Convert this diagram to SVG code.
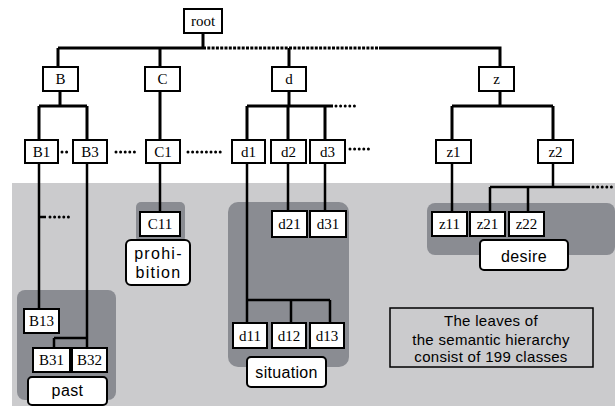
<svg xmlns="http://www.w3.org/2000/svg" width="615" height="406" viewBox="0 0 615 406">
  <style>
    .node rect { fill: #ffffff; stroke: #000000; stroke-width: 2; }
    .node text { font-family: "Liberation Serif", "Times New Roman", serif; font-size: 15px; text-anchor: middle; fill: #000000; }
    .tag rect { fill: #ffffff; stroke: #000000; stroke-width: 2; }
    .tag text { font-family: "Liberation Sans", Arial, sans-serif; font-size: 16px; text-anchor: middle; fill: #000000; }
    .panel { fill: #8a8c92; }
    .edge { fill: none; stroke: #000000; stroke-width: 3; }
    .edge2 { fill: none; stroke: #000000; stroke-width: 2.5; }
    .dense { fill: none; stroke: #000000; stroke-width: 3; stroke-dasharray: 3 1.3; }
    .dots { fill: none; stroke: #000000; stroke-width: 3; stroke-linecap: round; stroke-dasharray: 0 4.6; }
    .note { font-family: "Liberation Sans", Arial, sans-serif; font-size: 15px; text-anchor: middle; fill: #000000; letter-spacing: 0.3px; }
  </style>

  <!-- leaf area background -->
  <rect x="12" y="183" width="603" height="223" fill="#cbcbcd"/>

  <!-- class panels -->
  <rect class="panel" x="17" y="290" width="99" height="110" rx="8"/>
  <rect class="panel" x="136" y="202" width="49" height="40" rx="5"/>
  <rect class="panel" x="228" y="202" width="121" height="165" rx="10"/>
  <rect class="panel" x="427" y="203" width="188" height="52" rx="8"/>

  <!-- connectors -->
  <g id="connectors">
    <!-- level 1 -->
    <path class="edge" d="M203 33 V48 M58 48 H203 M58 48 V67 M160 48 V67 M379 48 H500 V67 M289 48 V67"/>
    <path class="dense" d="M203 48 H379"/>
    <!-- B branch -->
    <path class="edge" d="M60 91 V106 M39 106 H87 M39 106 V140 M87 106 V140"/>
    <path class="edge2" d="M39 163 V309 M39 217 H46 M87 163 V348 M54 338 H87 M54 338 V348"/>
    <path class="dots" d="M50 217 H70"/>
    <!-- C branch -->
    <path class="edge" d="M160 91 V140"/>
    <path class="edge2" d="M160 163 V212"/>
    <!-- d branch -->
    <path class="edge" d="M289 91 V106 M247 106 H333 M247 106 V140 M288 106 V140 M325 106 V140"/>
    <path class="dots" d="M336 106 H356"/>
    <path class="edge2" d="M247 163 V323 M288 163 V211 M325 163 V211 M247 300 H330 M291 300 V323 M330 300 V323"/>
    <!-- z branch -->
    <path class="edge" d="M500 91 V106 M452 106 H553 M452 106 V140 M553 106 V140"/>
    <path class="edge2" d="M452 163 V212 M553 163 V187 M490 187 H590 M490 187 V212 M528 187 V212"/>
    <path class="dots" d="M593 187 H613"/>
    <!-- elided siblings -->
    <path class="dots" d="M62 152 H71"/>
    <path class="dots" d="M116 152 H137"/>
    <path class="dots" d="M188 152 H224"/>
    <path class="dots" d="M350 149 H370"/>
  </g>

  <!-- hierarchy nodes -->
  <g id="n-root" class="node"><rect x="184" y="9" width="38" height="24"/><text x="203" y="26">root</text></g>
  <g id="n-B" class="node"><rect x="43" y="67" width="35" height="24"/><text x="60.5" y="84">B</text></g>
  <g id="n-C" class="node"><rect x="145" y="67" width="35" height="24"/><text x="162.5" y="84">C</text></g>
  <g id="n-d" class="node"><rect x="272" y="67" width="34" height="24"/><text x="289" y="84">d</text></g>
  <g id="n-z" class="node"><rect x="479" y="67" width="35" height="24"/><text x="496.5" y="84">z</text></g>

  <g id="n-B1" class="node"><rect x="25" y="140" width="33" height="23"/><text x="41.5" y="157">B1</text></g>
  <g id="n-B3" class="node"><rect x="73" y="140" width="34" height="23"/><text x="90" y="157">B3</text></g>
  <g id="n-C1" class="node"><rect x="146" y="140" width="34" height="23"/><text x="163" y="157">C1</text></g>
  <g id="n-d1" class="node"><rect x="232" y="140" width="33" height="23"/><text x="248.5" y="157">d1</text></g>
  <g id="n-d2" class="node"><rect x="271" y="140" width="35" height="23"/><text x="288.5" y="157">d2</text></g>
  <g id="n-d3" class="node"><rect x="310" y="140" width="35" height="23"/><text x="327.5" y="157">d3</text></g>
  <g id="n-z1" class="node"><rect x="436" y="140" width="35" height="23"/><text x="453.5" y="157">z1</text></g>
  <g id="n-z2" class="node"><rect x="538" y="140" width="35" height="23"/><text x="555.5" y="157">z2</text></g>

  <g id="n-B13" class="node"><rect x="24" y="309" width="35" height="24"/><text x="41.5" y="326">B13</text></g>
  <g id="n-B31" class="node"><rect x="33" y="348" width="37" height="24"/><text x="51.5" y="365">B31</text></g>
  <g id="n-B32" class="node"><rect x="72" y="348" width="35" height="24"/><text x="89.5" y="365">B32</text></g>
  <g id="n-C11" class="node"><rect x="140" y="212" width="40" height="24"/><text x="160" y="229">C11</text></g>
  <g id="n-d21" class="node"><rect x="272" y="211" width="35" height="26"/><text x="289.5" y="229">d21</text></g>
  <g id="n-d31" class="node"><rect x="310" y="211" width="36" height="26"/><text x="328" y="229">d31</text></g>
  <g id="n-d11" class="node"><rect x="233" y="323" width="34" height="25"/><text x="250" y="341">d11</text></g>
  <g id="n-d12" class="node"><rect x="272" y="323" width="34" height="25"/><text x="289" y="341">d12</text></g>
  <g id="n-d13" class="node"><rect x="310" y="323" width="34" height="25"/><text x="327" y="341">d13</text></g>
  <g id="n-z11" class="node"><rect x="432" y="212" width="35" height="24"/><text x="449.5" y="229">z11</text></g>
  <g id="n-z21" class="node"><rect x="470" y="212" width="35" height="24"/><text x="487.5" y="229">z21</text></g>
  <g id="n-z22" class="node"><rect x="509" y="212" width="35" height="24"/><text x="526.5" y="229">z22</text></g>

  <!-- class labels -->
  <g id="t-past" class="tag"><rect x="28" y="377" width="79" height="28" rx="4"/><text x="67.5" y="396" letter-spacing="0.4">past</text></g>
  <g id="t-prohibition" class="tag"><rect x="126" y="240" width="64" height="45" rx="5"/><text x="158.5" y="259" letter-spacing="1.3">prohi-</text><text x="158.5" y="278" letter-spacing="1.3">bition</text></g>
  <g id="t-situation" class="tag"><rect x="247" y="357" width="79" height="30" rx="4"/><text x="286.5" y="378" letter-spacing="0.3">situation</text></g>
  <g id="t-desire" class="tag"><rect x="480" y="240" width="88" height="30" rx="4"/><text x="524" y="262" letter-spacing="0.4">desire</text></g>

  <!-- note -->
  <g id="note">
    <rect x="390" y="308" width="203" height="59" fill="none" stroke="#000000" stroke-width="1.5"/>
    <text class="note" x="491" y="326">The leaves of</text>
    <text class="note" x="491" y="345">the semantic hierarchy</text>
    <text class="note" x="491" y="362">consist of 199 classes</text>
  </g>
</svg>
